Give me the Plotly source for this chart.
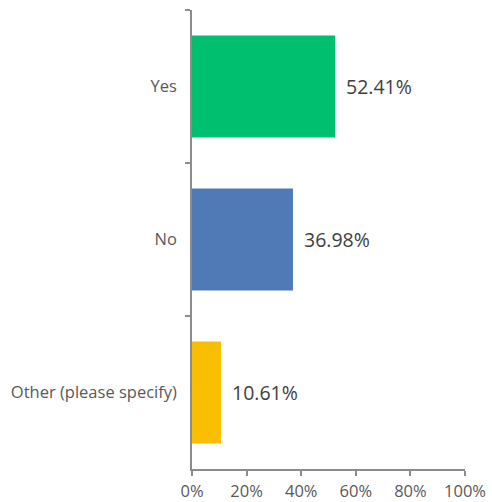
import plotly.graph_objects as go

# Survey responses (share of respondents, %)
categories = ["Yes", "No", "Other (please specify)"]
values = [52.41, 36.98, 10.61]
bar_colors = ["#00BF6F", "#4F7AB5", "#F9BE00"]
x_ticks = [0, 20, 40, 60, 80, 100]
x_tick_labels = ["0%", "20%", "40%", "60%", "80%", "100%"]

fig = go.Figure(
    go.Bar(
        y=categories,
        x=values,
        orientation="h",
        marker=dict(color=bar_colors, line=dict(width=0)),
        hoverinfo="skip",
    )
)

# value labels placed just past each bar's end
for cat, val in zip(categories, values):
    fig.add_annotation(
        x=val, y=cat, text=f"{val:.2f}%",
        xanchor="left", yanchor="middle", xshift=9, showarrow=False,
        font=dict(family="Open Sans", size=19.5, color="#404040"),
    )

fig.update_layout(
    width=492, height=502,
    margin=dict(l=192, r=27, t=10, b=33),
    paper_bgcolor="white", plot_bgcolor="white",
    bargap=0.333,
    showlegend=False,
    font=dict(family="Open Sans", color="#595959"),
)
fig.update_xaxes(
    range=[0, 100], tickvals=x_ticks, ticktext=x_tick_labels,
    showgrid=False, zeroline=False,
    showline=True, linecolor="#8C8C8C", linewidth=1.5,
    ticks="outside", ticklen=5, tickcolor="#8C8C8C", tickwidth=1.5,
    tickfont=dict(family="Open Sans", size=16.5, color="#595959"),
    ticklabelstandoff=1,
    automargin=False,
    fixedrange=True,
)
fig.update_yaxes(
    autorange="reversed", categoryorder="array", categoryarray=categories,
    showgrid=False, zeroline=False,
    showline=True, linecolor="#8C8C8C", linewidth=1.5,
    ticks="outside", ticklen=5, tickcolor="#8C8C8C", tickwidth=1.5,
    tickson="boundaries",
    tickfont=dict(family="Open Sans", size=16.5, color="#595959"),
    ticklabelstandoff=10,
    automargin=False,
    fixedrange=True,
)

fig.write_html("out.html", config={"displayModeBar": False})
